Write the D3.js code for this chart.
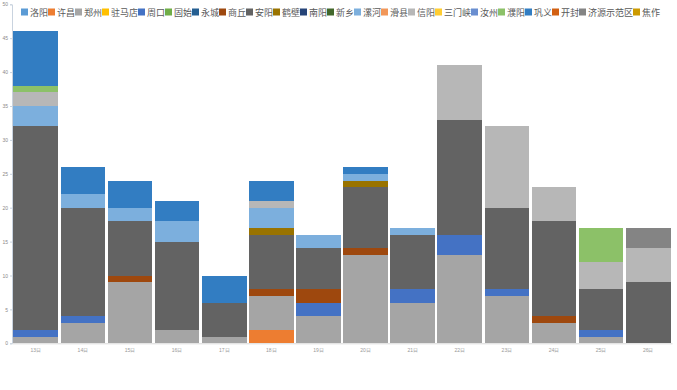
<!DOCTYPE html>
<html>
<head>
<meta charset="utf-8">
<script src="https://cdn.jsdelivr.net/npm/d3@7"></script>
<style>
  body { margin: 0; background: #fff; }
  svg { display: block; font-family: "Noto Sans CJK SC", "Noto Sans", sans-serif; }
</style>
</head>
<body>
<svg id="chart" width="677" height="390"></svg>
<script>
// 日期
const days = ["13日", "14日", "15日", "16日", "17日", "18日", "19日", "20日", "21日", "22日", "23日", "24日", "25日", "26日"];

// 城市（堆叠顺序，自下而上）
const cities = ["洛阳", "许昌", "郑州", "驻马店", "周口", "固始", "永城", "商丘", "安阳", "鹤壁", "南阳",
  "新乡", "漯河", "滑县", "信阳", "三门峡", "汝州", "濮阳", "巩义", "开封", "济源示范区", "焦作"];

const cityColors = ["#5B9BD5", "#ED7D31", "#A5A5A5", "#FFC000", "#4472C4", "#70AD47", "#255E91", "#9E480E",
  "#636363", "#997300", "#264478", "#43682B", "#7CAFDD", "#F1975A", "#B7B7B7", "#FFCD33", "#698ED0",
  "#8CC168", "#327DC2", "#D26012", "#848484", "#CC9A00"];

// 每个城市每天的数量（与 cities 同序）
const counts = [
  [0, 0, 0, 0, 0, 0, 0, 0, 0, 0, 0, 0, 0, 0],      // 洛阳
  [0, 0, 0, 0, 0, 2, 0, 0, 0, 0, 0, 0, 0, 0],      // 许昌
  [1, 3, 9, 2, 1, 5, 4, 13, 6, 13, 7, 3, 1, 0],    // 郑州
  [0, 0, 0, 0, 0, 0, 0, 0, 0, 0, 0, 0, 0, 0],      // 驻马店
  [1, 1, 0, 0, 0, 0, 2, 0, 2, 3, 1, 0, 1, 0],      // 周口
  [0, 0, 0, 0, 0, 0, 0, 0, 0, 0, 0, 0, 0, 0],      // 固始
  [0, 0, 0, 0, 0, 0, 0, 0, 0, 0, 0, 0, 0, 0],      // 永城
  [0, 0, 1, 0, 0, 1, 2, 1, 0, 0, 0, 1, 0, 0],      // 商丘
  [30, 16, 8, 13, 5, 8, 6, 9, 8, 17, 12, 14, 6, 9], // 安阳
  [0, 0, 0, 0, 0, 1, 0, 1, 0, 0, 0, 0, 0, 0],      // 鹤壁
  [0, 0, 0, 0, 0, 0, 0, 0, 0, 0, 0, 0, 0, 0],      // 南阳
  [0, 0, 0, 0, 0, 0, 0, 0, 0, 0, 0, 0, 0, 0],      // 新乡
  [3, 2, 2, 3, 0, 3, 2, 1, 1, 0, 0, 0, 0, 0],      // 漯河
  [0, 0, 0, 0, 0, 0, 0, 0, 0, 0, 0, 0, 0, 0],      // 滑县
  [2, 0, 0, 0, 0, 1, 0, 0, 0, 8, 12, 5, 4, 5],     // 信阳
  [0, 0, 0, 0, 0, 0, 0, 0, 0, 0, 0, 0, 0, 0],      // 三门峡
  [0, 0, 0, 0, 0, 0, 0, 0, 0, 0, 0, 0, 0, 0],      // 汝州
  [1, 0, 0, 0, 0, 0, 0, 0, 0, 0, 0, 0, 5, 0],      // 濮阳
  [8, 4, 4, 3, 4, 3, 0, 1, 0, 0, 0, 0, 0, 0],      // 巩义
  [0, 0, 0, 0, 0, 0, 0, 0, 0, 0, 0, 0, 0, 0],      // 开封
  [0, 0, 0, 0, 0, 0, 0, 0, 0, 0, 0, 0, 0, 3],      // 济源示范区
  [0, 0, 0, 0, 0, 0, 0, 0, 0, 0, 0, 0, 0, 0]       // 焦作
];

const yTicks = [0, 5, 10, 15, 20, 25, 30, 35, 40, 45, 50];

const svg = d3.select("#chart");
const plotLeft = 12, plotRight = 672, plotTop = 4.3, plotBottom = 343.3;

// 每天一行，便于 d3.stack
const rows = days.map((day, i) => {
  const r = { day };
  cities.forEach((c, j) => { r[c] = counts[j][i]; });
  return r;
});

const x = d3.scaleBand().domain(days).range([plotLeft, plotRight]).paddingInner(0.05).paddingOuter(0.03);
const y = d3.scaleLinear().domain([0, 50]).range([plotBottom, plotTop]);
const color = d3.scaleOrdinal().domain(cities).range(cityColors);

const series = d3.stack().keys(cities)(rows);

svg.append("g")
  .attr("shape-rendering", "crispEdges")
  .selectAll("g")
  .data(series)
  .join("g")
  .attr("fill", d => color(d.key))
  .selectAll("rect")
  .data(d => d.filter(p => p[1] > p[0]))
  .join("rect")
  .attr("x", d => x(d.data.day))
  .attr("width", x.bandwidth())
  .attr("y", d => y(d[1]))
  .attr("height", d => y(d[0]) - y(d[1]));

// Y 轴
const yAxis = svg.append("g")
  .attr("transform", `translate(${plotLeft},0)`)
  .call(d3.axisLeft(y).tickValues(yTicks).tickSize(2).tickPadding(2));
yAxis.select(".domain").attr("stroke", "#c9d3df");
yAxis.selectAll(".tick line").attr("stroke", "#c9d3df");
yAxis.selectAll("text").attr("fill", "#8a8a8a").style("font-size", "5px");

// X 轴
const xAxis = svg.append("g")
  .attr("transform", `translate(0,${plotBottom})`)
  .call(d3.axisBottom(x).tickSize(0).tickPadding(5));
xAxis.select(".domain").attr("stroke", "#d9d9d9");
xAxis.selectAll("text").attr("fill", "#999").style("font-size", "5px");

// 图例
const legend = svg.append("g").attr("transform", "translate(21,12)");
let lx = 0;
cities.forEach((c, i) => {
  const item = legend.append("g").attr("transform", `translate(${lx},0)`);
  item.append("rect")
    .attr("x", 0).attr("y", -3.5)
    .attr("width", 7).attr("height", 7)
    .attr("fill", cityColors[i]);
  item.append("text")
    .attr("x", 9).attr("y", 3.5)
    .attr("fill", "#595959")
    .style("font-size", "9px")
    .text(c);
  lx += 9 + c.length * 9;
});
</script>
</body>
</html>
